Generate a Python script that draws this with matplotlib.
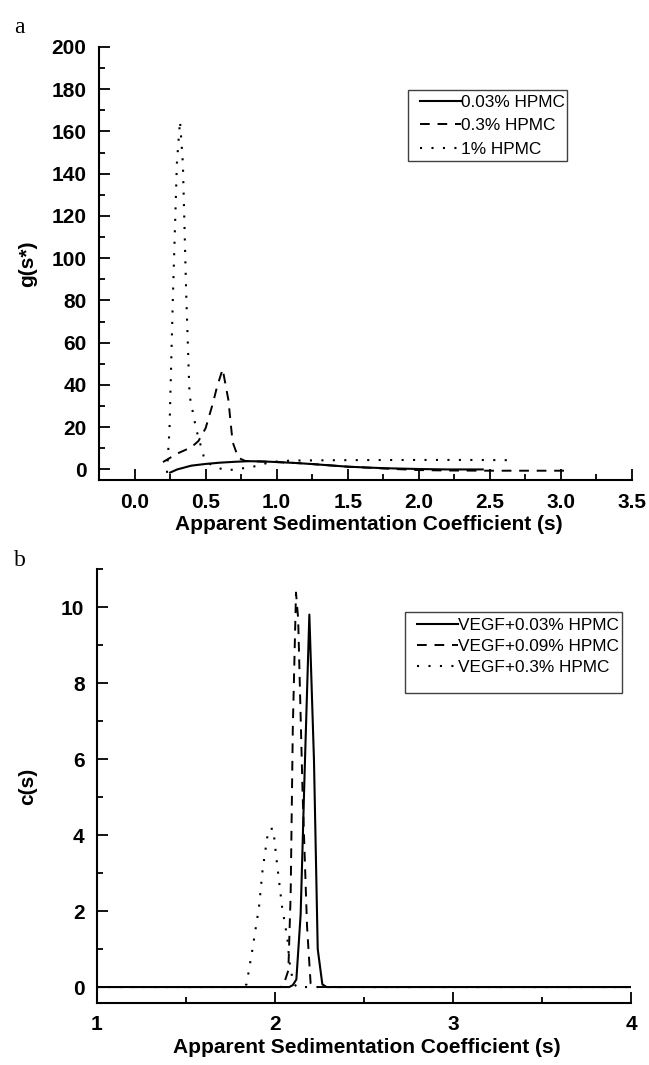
import matplotlib
matplotlib.use("Agg")
import matplotlib.pyplot as plt
from matplotlib.ticker import MultipleLocator
from matplotlib.patches import Rectangle

plt.rcParams['font.family'] = ['Liberation Sans', 'DejaVu Sans']

# ---- Panel a data ----
a_labels = ["0.03% HPMC", "0.3% HPMC", "1% HPMC"]
a_solid_x = [0.25, 0.30, 0.40, 0.50, 0.60, 0.70, 0.80, 0.90, 1.00, 1.15, 1.30, 1.50, 1.75, 2.00, 2.20, 2.45]
a_solid_y = [-1.5, 0.0, 1.8, 2.6, 3.2, 3.6, 3.9, 3.8, 3.5, 3.0, 2.3, 1.3, 0.6, 0.2, 0.0, 0.0]
a_dash_x = [0.20, 0.25, 0.30, 0.35, 0.40, 0.45, 0.50, 0.55, 0.58, 0.62, 0.66, 0.69, 0.73, 0.78, 0.85,
            1.0, 1.2, 1.5, 1.8, 2.0, 2.2, 2.5, 2.8, 3.05]
a_dash_y = [3.5, 5.5, 7.5, 9.0, 10.5, 13.5, 19.5, 31, 39, 47.5, 33, 13, 5.5, 4.0, 3.8,
            3.5, 2.8, 1.3, 0.3, -0.3, -0.5, -0.6, -0.6, -0.6]
a_dot_x = [0.228, 0.246, 0.27, 0.298, 0.32, 0.34, 0.364, 0.387, 0.434, 0.493, 0.55, 0.646,
           0.79, 0.88, 0.95, 1.1, 1.5, 2.0, 2.3, 2.62]
a_dot_y = [-1.6, 19, 82, 145, 165, 145, 82, 35, 19, 4.7, 1.6, -0.5,
           0.8, 1.9, 3.5, 4.2, 4.4, 4.5, 4.5, 4.4]

# ---- Panel b data ----
b_labels = ["VEGF+0.03% HPMC", "VEGF+0.09% HPMC", "VEGF+0.3% HPMC"]
b_solid_x = [1.0, 2.08, 2.10, 2.12, 2.144, 2.168, 2.193, 2.219, 2.24, 2.266, 2.29, 4.0]
b_solid_y = [0, 0, 0.05, 0.2, 1.9, 5.9, 9.8, 5.96, 1.0, 0.07, 0, 0]
b_dash_x = [1.0, 2.03, 2.047, 2.075, 2.088, 2.10, 2.118, 2.13, 2.155, 2.18, 2.20, 2.22, 4.0]
b_dash_y = [0, 0, 0.04, 0.44, 2.45, 6.8, 10.38, 9.7, 5.1, 1.6, 0.1, 0, 0]
b_dot_x = [1.0, 1.82, 1.84, 1.87, 1.91, 1.93, 1.963, 1.99, 2.01, 2.04, 2.07, 2.08, 2.10, 2.12, 4.0]
b_dot_y = [0, 0, 0.07, 0.9, 2.1, 3.07, 4.15, 4.17, 3.3, 2.1, 1.27, 0.7, 0.17, 0, 0]

W, H = 649, 1065
fig = plt.figure(figsize=(W / 100, H / 100), dpi=100)

def px_axes(l, t, r, b):
    return fig.add_axes([l / W, 1 - b / H, (r - l) / W, (b - t) / H])

AX1 = (99, 47, 632, 480)
AX2 = (97, 569, 631, 1003)
ax1 = px_axes(*AX1)
ax2 = px_axes(*AX2)

solid = dict(color='black', lw=1.5, linestyle='-')
dashed = dict(color='black', lw=1.4, linestyle=(0, (5, 4)))
dotted = dict(color='black', lw=1.5, linestyle=(0, (1, 4.5)))

ax1.plot(a_solid_x, a_solid_y, label=a_labels[0], **solid)
ax1.plot(a_dash_x, a_dash_y, label=a_labels[1], **dashed)
ax1.plot(a_dot_x, a_dot_y, label=a_labels[2], **dotted)

ax2.plot(b_solid_x, b_solid_y, label=b_labels[0], **solid)
ax2.plot(b_dash_x, b_dash_y, label=b_labels[1], **dashed)
ax2.plot(b_dot_x, b_dot_y, label=b_labels[2], **dotted)

ax1.set_xlim(-0.25, 3.5)
ax1.set_ylim(-5, 200)
ax1.xaxis.set_major_locator(MultipleLocator(0.5))
ax1.xaxis.set_minor_locator(MultipleLocator(0.25))
ax1.yaxis.set_major_locator(MultipleLocator(20))
ax1.yaxis.set_minor_locator(MultipleLocator(10))
ax1.xaxis.set_major_formatter(plt.FuncFormatter(lambda v, p: f"{v:.1f}"))

ax2.set_xlim(1, 4)
ax2.set_ylim(-0.42, 11)
ax2.xaxis.set_major_locator(MultipleLocator(1))
ax2.xaxis.set_minor_locator(MultipleLocator(0.5))
ax2.yaxis.set_major_locator(MultipleLocator(2))
ax2.yaxis.set_minor_locator(MultipleLocator(1))

for ax, box, ylab, xlab_top in ((ax1, AX1, "g(s*)", 515), (ax2, AX2, "c(s)", 1038)):
    l, t, r, b = box
    for s in ('top', 'right'):
        ax.spines[s].set_visible(False)
    for s in ('left', 'bottom'):
        ax.spines[s].set_linewidth(1.5)
    ax.tick_params(which='major', direction='in', length=8, width=1.3, pad=9, labelsize=15)
    ax.tick_params(which='minor', direction='in', length=4.5, width=1.3)
    for lab in ax.get_xticklabels() + ax.get_yticklabels():
        lab.set_fontweight('bold')
    ax.set_xlabel("Apparent Sedimentation Coefficient (s)", fontsize=15, fontweight='bold')
    ax.set_ylabel(ylab, fontsize=15, fontweight='bold')
    ax.xaxis.set_label_coords(((l + r) / 2 + 3 - l) / (r - l), -(xlab_top - b) / (b - t))
    ax.yaxis.set_label_coords((37 - l) / (r - l), 0.5)

def add_legend(ax, box, handles_x, top_y, fs, spacing, rect):
    l, t, r, b = box
    leg = ax.legend(loc='upper left',
                    bbox_to_anchor=((handles_x - l) / (r - l), (b - top_y) / (b - t)),
                    fontsize=fs, frameon=False, handlelength=41 / (fs * 100 / 72),
                    handletextpad=0.0, labelspacing=spacing, borderpad=0, borderaxespad=0)
    rx0, ry0, rx1, ry1 = rect
    fig.patches.append(Rectangle((rx0 / W, 1 - ry1 / H), (rx1 - rx0) / W, (ry1 - ry0) / H,
                                 transform=fig.transFigure, fill=False,
                                 edgecolor='#404040', linewidth=1.0))
    return leg

add_legend(ax1, AX1, 420, 95, 12.4, 0.48, (408, 90, 567, 161))
add_legend(ax2, AX2, 417, 618, 12.4, 0.34, (405, 612, 622, 693))

fig.text(14 / W, 1 - 33 / H, "a", fontsize=17, family='Liberation Serif')
fig.text(14 / W, 1 - 566 / H, "b", fontsize=17, family='Liberation Serif')

fig.savefig("out.png", dpi=100)
